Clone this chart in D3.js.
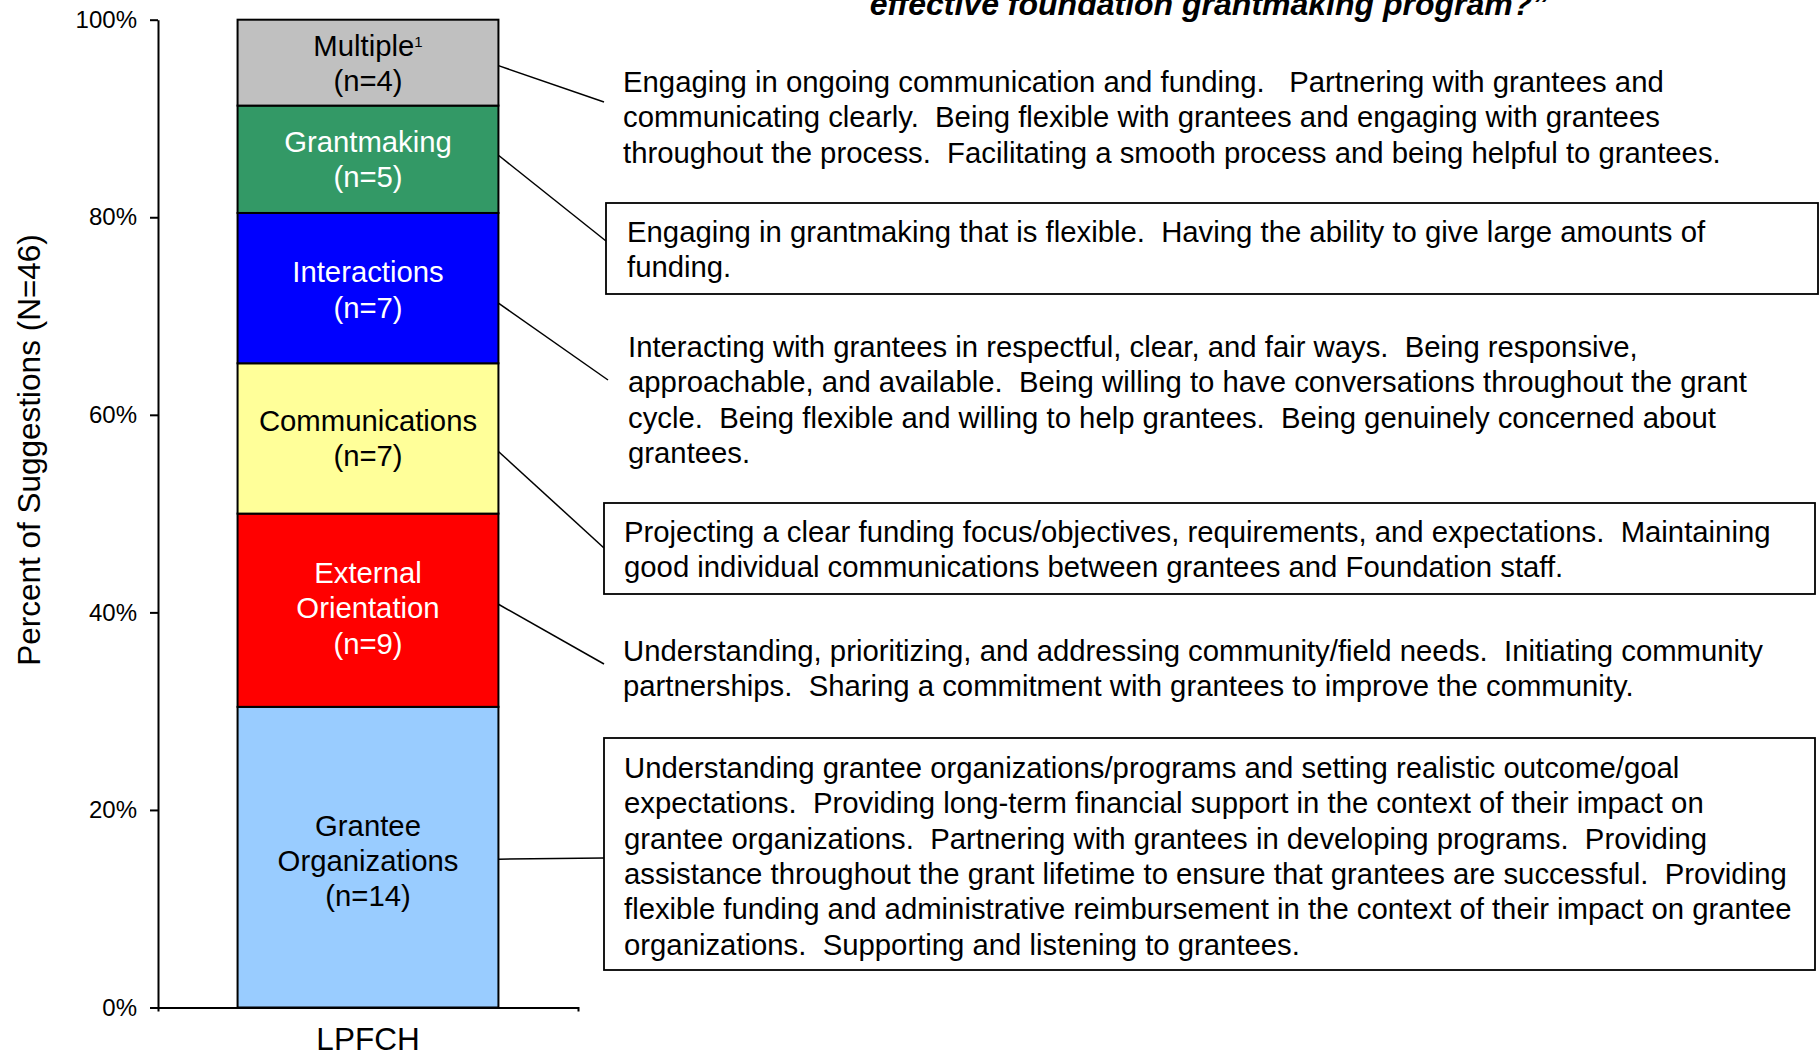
<!DOCTYPE html>
<html>
<head>
<meta charset="utf-8">
<title></title>
<style>
body { margin: 0; background: #fff; }
text { font-family: Arial, "Liberation Sans", sans-serif; fill: #000; }
.desc { font-size: 29.3px; white-space: pre; }
.seg { font-size: 29.3px; }
</style>
</head>
<body>
<script src="https://cdn.jsdelivr.net/npm/d3@7"></script>
<script>

// data, bottom to top
var categories = ["Grantee Organizations", "External Orientation", "Communications", "Interactions", "Grantmaking", "Multiple"];
var counts = [14, 9, 7, 7, 5, 4];
var segLines = [["Grantee", "Organizations"], ["External", "Orientation"], ["Communications"], ["Interactions"], ["Grantmaking"], ["Multiple"]];
var colors = ["#99ccff", "#ff0000", "#ffff99", "#0000ff", "#339966", "#c0c0c0"];
var labelColors = ["#000", "#fff", "#000", "#fff", "#fff", "#000"];
var yTicks = [0, 0.2, 0.4, 0.6, 0.8, 1];
var barName = "LPFCH";
var yTitle = "Percent of Suggestions (N=46)";
var titleLine = "effective foundation grantmaking program?\u201d";

var descriptions = [
  ["Understanding grantee organizations/programs and setting realistic outcome/goal",
   "expectations.  Providing long-term financial support in the context of their impact on",
   "grantee organizations.  Partnering with grantees in developing programs.  Providing",
   "assistance throughout the grant lifetime to ensure that grantees are successful.  Providing",
   "flexible funding and administrative reimbursement in the context of their impact on grantee",
   "organizations.  Supporting and listening to grantees."],
  ["Understanding, prioritizing, and addressing community/field needs.  Initiating community",
   "partnerships.  Sharing a commitment with grantees to improve the community."],
  ["Projecting a clear funding focus/objectives, requirements, and expectations.  Maintaining",
   "good individual communications between grantees and Foundation staff."],
  ["Interacting with grantees in respectful, clear, and fair ways.  Being responsive,",
   "approachable, and available.  Being willing to have conversations throughout the grant",
   "cycle.  Being flexible and willing to help grantees.  Being genuinely concerned about",
   "grantees."],
  ["Engaging in grantmaking that is flexible.  Having the ability to give large amounts of",
   "funding."],
  ["Engaging in ongoing communication and funding.   Partnering with grantees and",
   "communicating clearly.  Being flexible with grantees and engaging with grantees",
   "throughout the process.  Facilitating a smooth process and being helpful to grantees."]
];

// annotation layout (same order as data)
var notes = [
  {box: true,  x: 604, y: 738, w: 1211, h: 232, tx: 624, ty: 768, ex: 604, ey: 858, off: 2, lo: 4},
  {box: false, tx: 623, ty: 651, ex: 604, ey: 664, off: -6, lo: -2},
  {box: true,  x: 604, y: 503, w: 1211, h: 91, tx: 624, ty: 532, ex: 604, ey: 548, off: 13, lo: 0},
  {box: false, tx: 628, ty: 347, ex: 608, ey: 380, off: 15, lo: 2},
  {box: true,  x: 606, y: 203, w: 1212, h: 91, tx: 627, ty: 232, ex: 606, ey: 241, off: -4, lo: 0},
  {box: false, tx: 623, ty: 82, ex: 604, ey: 102, off: 3, lo: 1}
];

var width = 1820, height = 1054;
var axisX = 158, axisEnd = 578;
var lineH = 35.3;

var svg = d3.select("body").append("svg")
    .attr("width", width)
    .attr("height", height);

var total = d3.sum(counts);
var segs = [];
var acc = 0;
counts.forEach(function(c, i) {
  segs.push({i: i, name: categories[i], n: c, y0: acc / total, y1: (acc + c) / total});
  acc += c;
});

var y = d3.scaleLinear().domain([0, 1]).range([1007.5, 19.7]);
var x = d3.scaleBand().domain([barName]).range([axisX, axisEnd]).paddingInner(0).paddingOuter(0.305);

// title (second line only visible)
svg.append("text")
    .attr("x", 1209)
    .attr("y", 15)
    .attr("text-anchor", "middle")
    .style("font-size", "32px")
    .style("font-weight", "bold")
    .style("font-style", "italic")
    .text(titleLine);

// bars
svg.append("g").selectAll("rect")
    .data(segs)
    .enter().append("rect")
    .attr("x", x(barName))
    .attr("width", x.bandwidth())
    .attr("y", function(d) { return y(d.y1); })
    .attr("height", function(d) { return y(d.y0) - y(d.y1); })
    .style("fill", function(d) { return colors[d.i]; })
    .style("stroke", "#000")
    .style("stroke-width", 2);

// segment labels
var cx = x(barName) + x.bandwidth() / 2;
segs.forEach(function(d) {
  var lines = segLines[d.i].concat(["(n=" + d.n + ")"]);
  var mid = (y(d.y0) + y(d.y1)) / 2 + notes[d.i].lo;
  var t = svg.append("text")
      .attr("class", "seg")
      .attr("text-anchor", "middle")
      .style("fill", labelColors[d.i]);
  lines.forEach(function(l, k) {
    t.append("tspan")
        .attr("x", cx)
        .attr("y", mid + (k - (lines.length - 1) / 2) * lineH + 10)
        .text(l);
    if (d.name == "Multiple" && k == 0) {
      t.append("tspan").attr("dy", -9).style("font-size", "15px").text("1");
    }
  });
});

// y axis
var yAxis = d3.axisLeft(y)
    .tickValues(yTicks)
    .tickFormat(d3.format(".0%"))
    .tickSize(8)
    .tickSizeOuter(0)
    .tickPadding(13);

var ya = svg.append("g")
    .attr("transform", "translate(" + axisX + ",0)")
    .call(yAxis);
ya.select(".domain").style("stroke", "#000").style("stroke-width", 2);
ya.selectAll("line").style("stroke", "#000").style("stroke-width", 2);
ya.selectAll("text").style("font-size", "24px").style("fill", "#000").style("font-family", "Arial, 'Liberation Sans', sans-serif");

// x axis
var xa = svg.append("g")
    .attr("transform", "translate(0," + y(0) + ")")
    .call(d3.axisBottom(x).tickSize(0).tickSizeOuter(4).tickPadding(20));
xa.select(".domain").style("stroke", "#000").style("stroke-width", 2);
xa.selectAll("text")
    .style("font-size", "31.5px")
    .style("fill", "#000")
    .style("font-family", "Arial, 'Liberation Sans', sans-serif");

// y axis title
svg.append("text")
    .attr("transform", "translate(40,450) rotate(-90)")
    .attr("text-anchor", "middle")
    .style("font-size", "31.5px")
    .text(yTitle);

// annotations
segs.forEach(function(d) {
  var a = notes[d.i];
  var sy = (y(d.y0) + y(d.y1)) / 2 + a.off;
  svg.append("line")
      .attr("x1", x(barName) + x.bandwidth())
      .attr("y1", sy)
      .attr("x2", a.ex)
      .attr("y2", a.ey)
      .style("stroke", "#000")
      .style("stroke-width", 1.5);
  if (a.box) {
    svg.append("rect")
        .attr("x", a.x).attr("y", a.y)
        .attr("width", a.w).attr("height", a.h)
        .style("fill", "#fff")
        .style("stroke", "#000")
        .style("stroke-width", 1.8);
  }
  var t = svg.append("text").attr("class", "desc");
  descriptions[d.i].forEach(function(l, k) {
    t.append("tspan")
        .attr("x", a.tx)
        .attr("y", a.ty + k * lineH + 10)
        .text(l);
  });
});

</script>
</body>
</html>
